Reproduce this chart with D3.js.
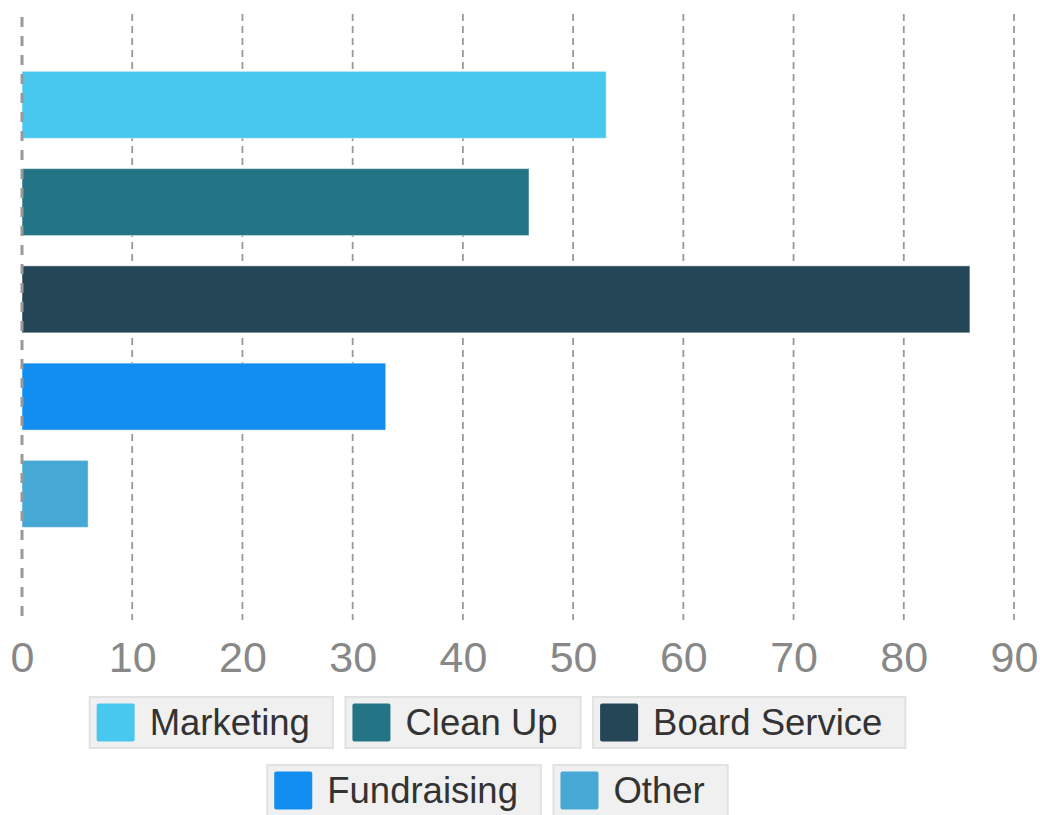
<!DOCTYPE html>
<html>
<head>
<meta charset="utf-8">
<title>Volunteer activities</title>
<script src="https://d3js.org/d3.v7.min.js"></script>
<style>
  body { margin: 0; background: #fff; }
  svg { display: block; font-family: "Liberation Sans", Arial, sans-serif; }
</style>
</head>
<body>
<div id="chart"></div>
<script>
// Data
const categories = ["Marketing", "Clean Up", "Board Service", "Fundraising", "Other"];
const values     = [53, 46, 86, 33, 6];
const colors     = ["#48c8ef", "#237484", "#254657", "#128ef0", "#46a8d5"];
const tickValues = [0, 10, 20, 30, 40, 50, 60, 70, 80, 90];
const legendRows = [["Marketing", "Clean Up", "Board Service"], ["Fundraising", "Other"]];

const width = 1040, height = 815;
const gridTop = 14, gridBottom = 620;

const svg = d3.select("#chart").append("svg")
  .attr("width", width)
  .attr("height", height);

// Scales
const x = d3.scaleLinear().domain([0, 90]).range([22, 1014]);
const y = d3.scaleBand()
  .domain(categories)
  .range([56.2, 542.5])
  .paddingInner(0.311)
  .paddingOuter(0.1555);
const color = d3.scaleOrdinal().domain(categories).range(colors);

// Grid lines (not the zero line)
svg.append("g").selectAll("line")
  .data(tickValues.filter(d => d !== 0))
  .enter().append("line")
  .attr("x1", d => x(d)).attr("x2", d => x(d))
  .attr("y1", gridTop).attr("y2", gridBottom)
  .attr("stroke", "#999")
  .attr("stroke-width", 1.8)
  .attr("stroke-dasharray", "7,5");

// Bars
svg.append("g").selectAll("rect")
  .data(categories)
  .enter().append("rect")
  .attr("x", x(0))
  .attr("y", d => y(d))
  .attr("width", (d, i) => x(values[i]) - x(0))
  .attr("height", y.bandwidth())
  .attr("fill", d => color(d))
  .attr("stroke", "rgba(255,255,255,0.5)")
  .attr("stroke-width", 1);

// Zero line on top of the bars
svg.append("line")
  .attr("x1", x(0)).attr("x2", x(0))
  .attr("y1", gridTop + 3).attr("y2", gridBottom)
  .attr("stroke", "#999")
  .attr("stroke-width", 3)
  .attr("stroke-dasharray", "10,9");

// Axis labels
const xAxis = d3.axisBottom(x).tickValues(tickValues).tickSize(0).tickPadding(0);
const axisG = svg.append("g")
  .attr("transform", "translate(0,672)")
  .call(xAxis);
axisG.select(".domain").remove();
axisG.selectAll("text")
  .attr("dy", 0)
  .attr("fill", "#888")
  .style("font-size", "43px")
  .style("font-family", "'Liberation Sans', Arial, sans-serif");

// Legend
const legendCenter = 497.5;
const rowTops = [697, 765];
const boxH = 51, swatch = 38, padL = 7, gapText = 15, padR = 23, boxGap = 12.5;
const legendFont = 36.5;

legendRows.forEach((row, r) => {
  const g = svg.append("g");
  // measure text widths first
  const items = row.map(name => {
    const t = g.append("text")
      .style("font-size", legendFont + "px")
      .text(name);
    const w = t.node().getComputedTextLength();
    t.remove();
    return { name: name, w: w, boxW: padL + swatch + gapText + w + padR };
  });
  const total = d3.sum(items, d => d.boxW) + boxGap * (items.length - 1);
  let cx = legendCenter - total / 2;
  const top = rowTops[r];
  items.forEach(it => {
    g.append("rect")
      .attr("x", cx).attr("y", top)
      .attr("width", it.boxW).attr("height", boxH)
      .attr("fill", "#f0f0f0")
      .attr("stroke", "#e2e2e2")
      .attr("stroke-width", 2);
    g.append("rect")
      .attr("x", cx + padL).attr("y", top + (boxH - swatch) / 2)
      .attr("width", swatch).attr("height", swatch)
      .attr("rx", 2)
      .attr("fill", color(it.name));
    g.append("text")
      .attr("x", cx + padL + swatch + gapText)
      .attr("y", top + boxH / 2)
      .attr("dy", "0.35em")
      .attr("fill", "#333")
      .style("font-size", legendFont + "px")
      .text(it.name);
    cx += it.boxW + boxGap;
  });
});
</script>
</body>
</html>
